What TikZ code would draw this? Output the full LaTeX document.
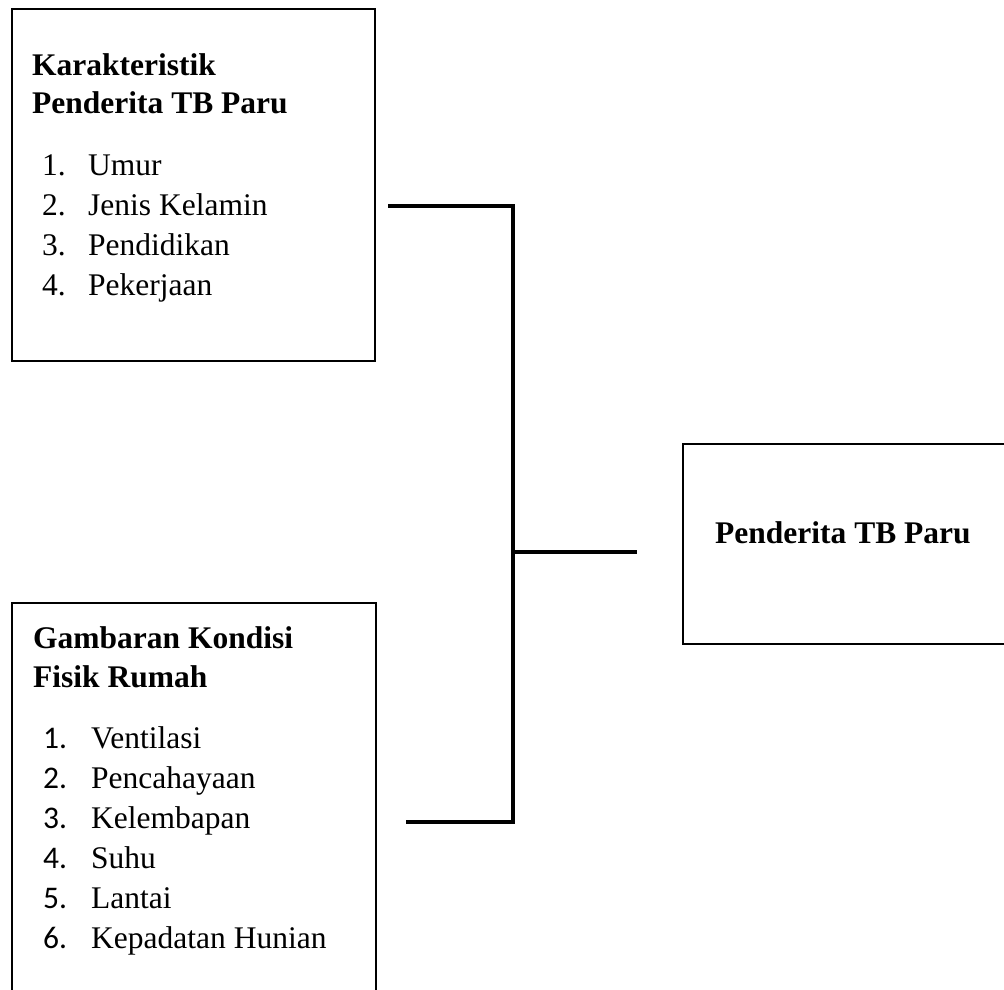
\documentclass[tikz,border=0pt]{standalone}
\usepackage{fontspec}
\setmainfont{Liberation Serif}
\newfontfamily\numfont{Carlito}
\usetikzlibrary{positioning}

\begin{document}
\begin{tikzpicture}[x=1pt,y=-1pt,
    box/.style={draw, line width=2pt, rectangle, inner sep=0pt, anchor=north west},
    txt/.style={anchor=base west, inner sep=0pt, font=\fontsize{31.5}{40}\selectfont},
    head/.style={txt, font=\fontsize{31.5}{40}\selectfont\bfseries},
    link/.style={line width=3.3pt, line join=miter}]
  \useasboundingbox (0,0) rectangle (1004,989);

  % Boxes
  \node[box, minimum width=363pt, minimum height=352pt] (karakteristik) at (11,8) {};
  \node[box, minimum width=364pt, minimum height=400pt] (kondisi) at (11,602) {};
  \node[box, minimum width=340pt, minimum height=200pt] (penderita) at (682,443) {};

  % Karakteristik penderita
  \node[head] (k-title1) at (32,75) {Karakteristik};
  \node[head] (k-title2) at (32,113) {Penderita TB Paru};
  \foreach \t [count=\i] in {Umur, Jenis Kelamin, Pendidikan, Pekerjaan} {
    \node[txt] (k-num\i) at (42,{135+40*\i}) {\i.};
    \node[txt] (k-item\i) at (88,{135+40*\i}) {\t};
  }

  % Kondisi fisik rumah
  \node[head] (r-title1) at (33,648) {Gambaran Kondisi};
  \node[head] (r-title2) at (33,687) {Fisik Rumah};
  \foreach \t [count=\i] in {Ventilasi, Pencahayaan, Kelembapan, Suhu, Lantai, Kepadatan Hunian} {
    \node[txt, font=\fontsize{31.5}{40}\numfont] (r-num\i) at (43,{708+40*\i}) {\i.};
    \node[txt] (r-item\i) at (91,{708+40*\i}) {\t};
  }

  % Penderita
  \node[head] (p-title) at (715,543) {Penderita TB Paru};

  % Connectors
  \coordinate (k-out) at (388,206);
  \coordinate (k-turn) at (513,206);
  \coordinate (r-out) at (406,822);
  \coordinate (r-turn) at (513,822);
  \coordinate (mid) at (513,552);
  \coordinate (p-in) at (637,552);
  \draw[link] (k-out) -- (k-turn) -- (r-turn) -- (r-out);
  \draw[link] (mid) -- (p-in);
\end{tikzpicture}
\end{document}
